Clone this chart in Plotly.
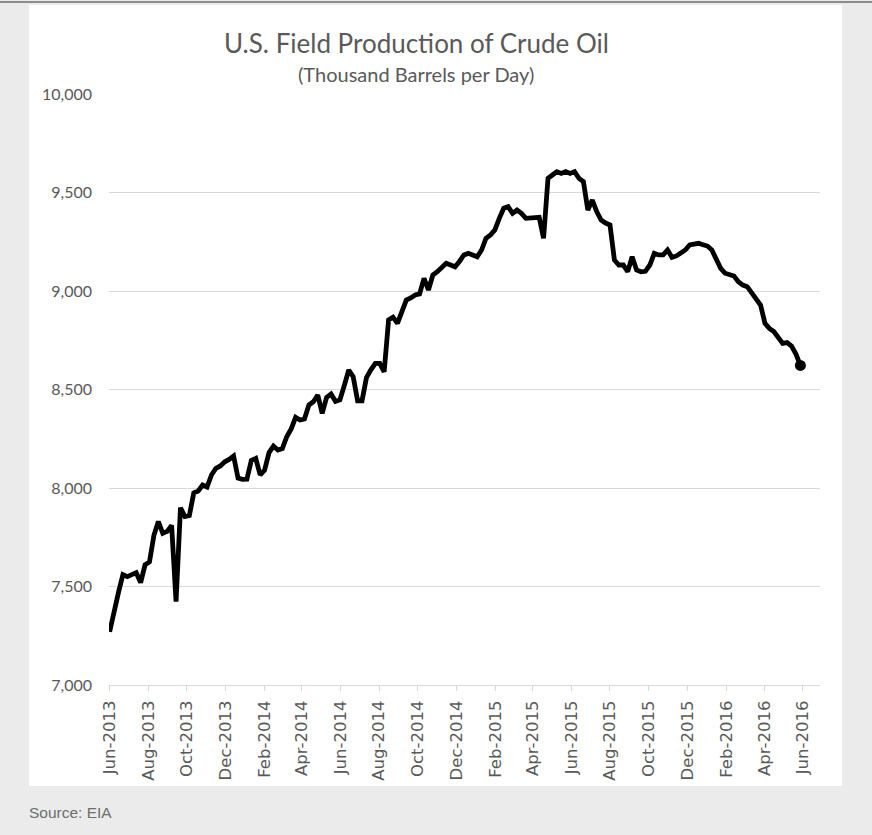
import pandas as pd
import plotly.graph_objects as go

# Weekly U.S. field production of crude oil (thousand barrels per day)
start_week = "2013-06-01"
production = [
    7270, 7380, 7470, 7560, 7550, 7560, 7570, 7520, 7610, 7625,
    7760, 7830, 7770, 7780, 7810, 7423, 7900, 7855, 7860, 7975,
    7985, 8015, 8005, 8066, 8100, 8112, 8133, 8145, 8162, 8050,
    8044, 8045, 8140, 8150, 8066, 8091, 8180, 8213, 8193, 8200,
    8260, 8300, 8359, 8345, 8350, 8421, 8438, 8472, 8379, 8460,
    8477, 8440, 8447, 8520, 8599, 8565, 8443, 8443, 8560, 8600,
    8633, 8633, 8590, 8853, 8867, 8836, 8895, 8954, 8965, 8980,
    8985, 9064, 9005, 9081, 9098, 9120, 9141, 9132, 9123, 9150,
    9183, 9191, 9185, 9174, 9208, 9268, 9284, 9310, 9369, 9420,
    9428, 9394, 9411, 9394, 9369, 9370, 9377, 9374, 9268, 9572,
    9589, 9606, 9597, 9606, 9597, 9606, 9572, 9555, 9411, 9462,
    9403, 9360, 9345, 9335, 9157, 9132, 9132, 9098, 9174, 9107,
    9098, 9100, 9132, 9191, 9183, 9183, 9208, 9171, 9178, 9195,
    9208, 9234, 9240, 9242, 9235, 9228, 9208, 9157, 9115, 9090,
    9081, 9076, 9047, 9030, 9022, 8988, 8960, 8929, 8836, 8810,
    8794, 8760, 8734, 8738, 8720, 8680, 8622,
]
weeks = pd.date_range(start_week, periods=len(production), freq="7D")

tick_dates = pd.date_range("2013-06-01", "2016-06-01", freq="2MS")
tick_labels = [d.strftime("%b-%Y") for d in tick_dates]
y_ticks = [7000, 7500, 8000, 8500, 9000, 9500, 10000]

title_text = "U.S. Field Production of Crude Oil"
subtitle_text = "(Thousand Barrels per Day)"
source_text = "Source: EIA"

W, H = 872, 835
L, R, T, B = 109, 52, 94, 150
pw, ph = W - L - R, H - T - B


def px(x):
    return (x - L) / pw


def py(y):
    return (H - B - y) / ph


fig = go.Figure()
fig.add_trace(go.Scatter(
    x=weeks, y=production, mode="lines",
    line=dict(color="black", width=4.8), hoverinfo="skip", showlegend=False,
))
fig.add_trace(go.Scatter(
    x=[weeks[-1]], y=[production[-1]], mode="markers",
    marker=dict(color="black", size=11), hoverinfo="skip", showlegend=False,
))

fig.update_layout(
    width=W, height=H,
    margin=dict(l=L, r=R, t=T, b=B),
    paper_bgcolor="#ebebeb", plot_bgcolor="white",
    showlegend=False,
    shapes=[
        dict(type="rect", xref="paper", yref="paper", layer="below",
             x0=px(29), x1=px(842), y0=py(786), y1=py(5),
             fillcolor="white", line=dict(width=0)),
        dict(type="line", xref="paper", yref="paper",
             x0=px(0), x1=px(W), y0=py(2), y1=py(2),
             line=dict(color="#8c8c8c", width=2)),
    ],
    annotations=[
        dict(text=title_text, xref="paper", yref="paper", x=px(416), y=py(43),
             xanchor="center", yanchor="middle", showarrow=False,
             font=dict(family="Lato", size=26, color="#595959")),
        dict(text=subtitle_text, xref="paper", yref="paper", x=px(416), y=py(74),
             xanchor="center", yanchor="middle", showarrow=False,
             font=dict(family="Lato", size=20, color="#595959")),
        dict(text=source_text, xref="paper", yref="paper", x=px(27), y=py(812),
             xanchor="left", yanchor="middle", showarrow=False,
             font=dict(family="Liberation Sans, Arial", size=15.5, color="#6e6e6e")),
    ],
)

fig.update_xaxes(
    type="date", range=["2013-05-31", "2016-06-28"],
    tickvals=tick_dates, ticktext=tick_labels, tickangle=-90,
    ticks="outside", ticklen=5, tickcolor="#d9d9d9", tickwidth=1,
    showline=True, linecolor="#d9d9d9", linewidth=1,
    showgrid=False, zeroline=False, ticklabelstandoff=3,
    tickfont=dict(family="DejaVu Sans", size=16.5, color="#595959"),
)
fig.update_yaxes(
    range=[7000, 10000], tickvals=y_ticks, tickformat=",",
    showgrid=True, gridcolor="#d9d9d9", gridwidth=1,
    showline=False, zeroline=False, ticks="", ticklabelstandoff=16,
    tickfont=dict(family="Lato", size=16, color="#595959"),
)

fig.write_html(
    "out.html",
    config={"displayModeBar": False},
    post_script="document.body.style.margin='0';document.body.style.overflow='hidden';",
)
